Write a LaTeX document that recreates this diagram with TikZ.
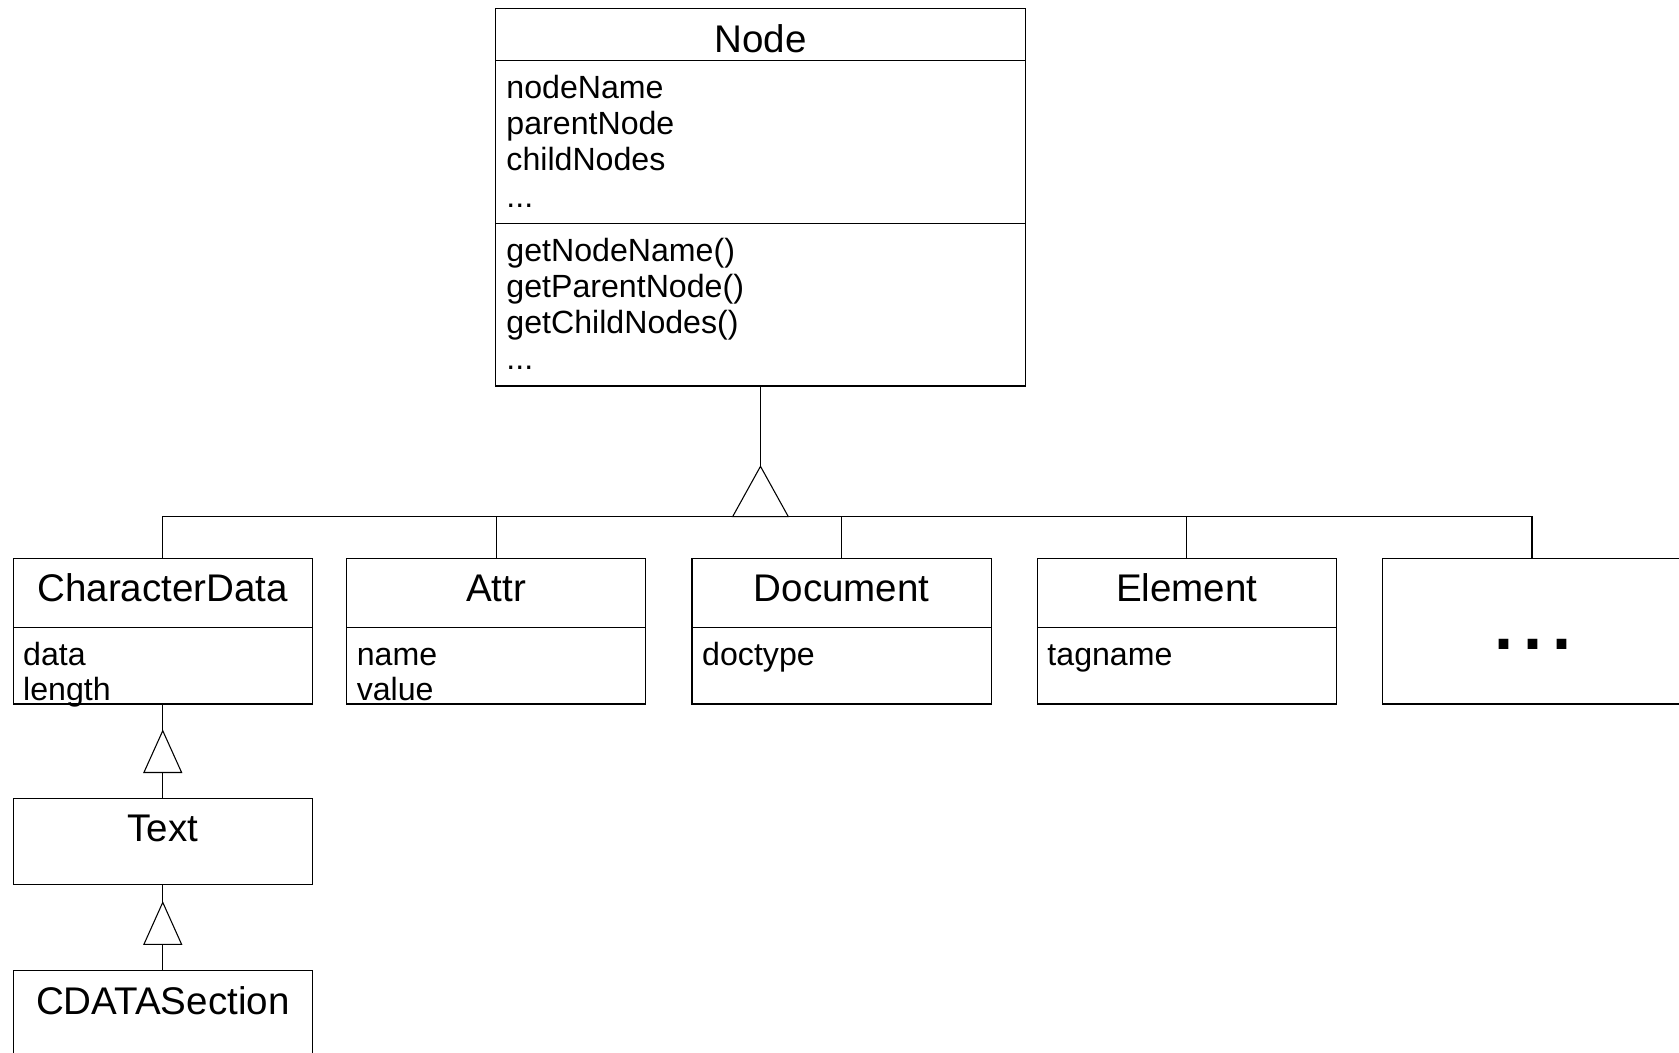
\documentclass[tikz,border=0pt]{standalone}
\usepackage{fontspec}
\setmainfont{Liberation Sans}
\newcommand\cTitle{\fontsize{36}{36}\selectfont}
\newcommand\cAttr{\fontsize{30}{30}\selectfont}
\newcommand\cDots{\fontsize{64}{64}\selectfont\bfseries}
\tikzset{
  box/.style={draw, line width=1pt, inner sep=0pt, outer sep=0pt},
  cls/.style={box, minimum width=279.5pt, minimum height=136pt},
  ttl/.style={anchor=base, inner sep=0pt, outer sep=0pt, font=\cTitle},
  att/.style={anchor=base west, inner sep=0pt, outer sep=0pt, font=\cAttr},
  conn/.style={line width=1pt},
  inh/.style={line width=1pt, fill=white},
}
\begin{document}
\begin{tikzpicture}[x=1pt,y=-1pt]
\useasboundingbox (0,0) rectangle (1568,983);
% Node class
\node[box, minimum width=494.5pt, minimum height=352.7pt] (nodeC) at (710.2,184.15) {};
\draw[conn] ([yshift=-48.5pt]nodeC.north west) -- ([yshift=-48.5pt]nodeC.north east);
\draw[conn] ([yshift=-200.7pt]nodeC.north west) -- ([yshift=-200.7pt]nodeC.north east);
\node[ttl] (tNode) at (710.2,49) {Node};
\node[att] (n1) at (473,92) {nodeName};
\node[att] (n2) at (473,125.5) {parentNode};
\node[att] (n3) at (473,159) {childNodes};
\node[att] (n4) at (473,194) {...};
\node[att] (m1) at (473,244) {getNodeName()};
\node[att] (m2) at (473,277.5) {getParentNode()};
\node[att] (m3) at (473,311) {getChildNodes()};
\node[att] (m4) at (473,345.5) {...};
% child classes
\node[cls] (cd) at (152,589.45) {};
\node[cls] (attr) at (463.4,589.45) {};
\node[cls] (doc) at (786,589.45) {};
\node[cls] (elem) at (1108.4,589.45) {};
\node[cls] (dots) at (1430.7,589.45) {};
\foreach \n in {cd,attr,doc,elem}{
  \draw[conn] ([yshift=-64.2pt]\n.north west) -- ([yshift=-64.2pt]\n.north east);
}
\node[ttl] (tcd) at (152,561.5) {CharacterData};
\node[ttl] (tattr) at (463.4,561.5) {Attr};
\node[ttl] (tdoc) at (786,561.5) {Document};
\node[ttl] (telem) at (1108.4,561.5) {Element};
\node[anchor=base, inner sep=0pt, font=\cDots] (tdots) at (1431.5,607) {.\kern9pt.\kern9pt.};
\node[att] (cd1) at (21.7,621.3) {data};
\node[att] (cd2) at (21.7,654.6) {length};
\node[att] (at1) at (333.2,621.3) {name};
\node[att] (at2) at (333.2,654.6) {value};
\node[att] (dc1) at (655.8,621.3) {doctype};
\node[att] (el1) at (978.2,621.3) {tagname};
% Text and CDATASection
\node[box, minimum width=279.5pt, minimum height=80pt] (txt) at (152,786) {};
\node[ttl] (ttxt) at (152,786.3) {Text};
\node[cls] (cdata) at (152,974.5) {};
\node[ttl] (tcdata) at (152,947.5) {CDATASection};
% generalisation Node
\coordinate (apex0) at (710.2,435.5);
\coordinate (bus) at (710.2,482.5);
\draw[conn] (nodeC.south) -- (apex0);
\draw[conn] (cd.north) -- (cd.north |- bus) -- (dots.north |- bus) -- (dots.north);
\draw[conn] (attr.north) -- (attr.north |- bus);
\draw[conn] (doc.north) -- (doc.north |- bus);
\draw[conn] (elem.north) -- (elem.north |- bus);
\draw[inh] (apex0) -- ++(-26,47) -- ++(52,0) -- cycle;
% CharacterData <- Text
\coordinate (apex1) at (152,682.4);
\draw[conn] (cd.south) -- (apex1);
\draw[conn] ([yshift=-39pt]apex1) -- (txt.north);
\draw[inh] (apex1) -- ++(-17.6,39) -- ++(35.2,0) -- cycle;
% Text <- CDATASection
\coordinate (apex2) at (152,842.7);
\draw[conn] (txt.south) -- (apex2);
\draw[conn] ([yshift=-39.2pt]apex2) -- (cdata.north);
\draw[inh] (apex2) -- ++(-17.6,39.2) -- ++(35.2,0) -- cycle;
\end{tikzpicture}
\end{document}
